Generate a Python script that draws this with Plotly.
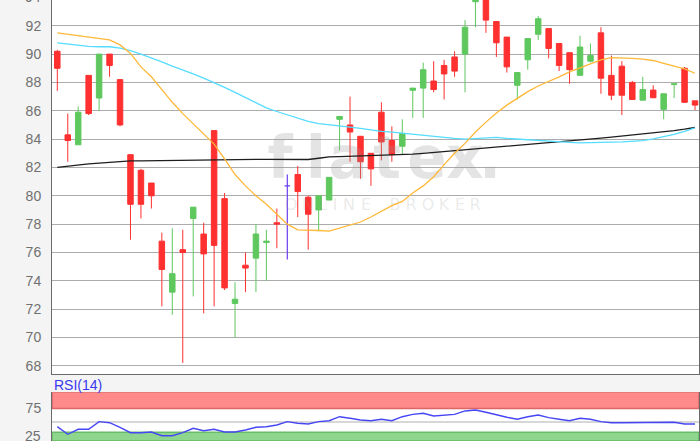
import plotly.graph_objects as go

# ---------------- data ----------------
idx = list(range(62))
open_ = [90.2, 84.3, 83.6, 88.5, 86.9, 90.0, 88.2, 82.9, 81.8, 80.9,
         76.8, 73.2, 76.2, 78.4, 77.3, 84.6, 79.8, 72.4, 75.1, 75.6,
         76.7, 78.1, 80.7, 81.5, 79.9, 79.0, 79.7, 85.4, 85.0, 84.2,
         83.0, 85.9, 83.9, 83.5, 87.45, 87.6, 88.1, 89.2, 89.8, 90.0,
         93.7, 94.3, 92.3, 91.2, 87.8, 89.6, 91.4, 91.8, 90.75, 90.1,
         88.5, 89.5, 91.5, 88.5, 89.15, 88.0, 86.75, 87.46, 86.1, 87.85,
         89.0, 86.7]
high = [90.3, 85.8, 86.3, 88.5, 90.0, 90.0, 88.2, 82.95, 81.9, 80.9,
        77.4, 77.7, 77.6, 79.2, 78.1, 84.6, 80.2, 73.9, 76.0, 78.0,
        77.6, 79.1, 81.5, 82.1, 80.0, 80.0, 81.3, 85.6, 87.0, 84.2,
        83.0, 86.6, 84.9, 85.4, 87.6, 89.4, 89.5, 89.6, 90.2, 92.4,
        94.6, 94.6, 92.3, 91.2, 88.7, 91.1, 92.7, 91.8, 90.75, 90.1,
        91.3, 90.75, 91.9, 89.9, 89.5, 88.1, 88.4, 87.8, 87.2, 87.9,
        89.1, 86.7]
low = [87.4, 82.4, 83.6, 85.7, 86.0, 88.4, 84.9, 76.9, 78.4, 79.1,
       72.2, 71.6, 68.2, 72.9, 71.7, 72.2, 73.35, 70.0, 73.2, 73.2,
       74.0, 76.3, 75.5, 78.5, 76.2, 77.5, 79.7, 83.2, 82.4, 81.2,
       80.7, 82.5, 82.4, 82.9, 85.5, 85.5, 87.3, 86.8, 88.4, 87.3,
       91.9, 91.5, 89.8, 88.7, 86.8, 88.9, 91.0, 89.7, 88.8, 87.9,
       88.5, 89.4, 87.2, 86.75, 85.7, 86.8, 86.75, 86.9, 85.4, 86.9,
       86.55, 86.05]
close = [89.0, 83.9, 85.9, 85.8, 90.0, 89.2, 85.0, 79.4, 79.4, 80.0,
         74.8, 74.5, 76.0, 79.2, 75.9, 76.5, 73.5, 72.7, 74.9, 77.3,
         76.8, 78.0, 80.7, 80.3, 78.7, 80.0, 81.3, 85.6, 84.5, 82.4,
         81.9, 83.8, 82.9, 84.4, 87.6, 88.9, 87.5, 88.6, 88.8, 91.9,
         94.4, 92.4, 90.8, 89.1, 88.7, 91.1, 92.5, 90.4, 89.2, 88.9,
         90.5, 89.9, 88.3, 87.1, 87.1, 86.8, 87.5, 86.92, 87.2, 87.9,
         86.6, 86.4]

ma_orange = [91.5, 91.4, 91.3, 91.2, 91.15, 91.0, 90.65, 90.05, 89.1, 88.4,
             87.5, 86.6, 85.8, 85.1, 84.4, 83.65, 82.6, 81.5, 80.7, 80.0,
             79.4, 78.7, 78.0, 77.6, 77.6, 77.55, 77.5, 77.7, 77.9, 78.15,
             78.5, 78.9, 79.3, 79.6, 80.2, 80.7, 81.35, 82.2, 83.0, 83.7,
             84.5, 85.2, 85.85, 86.4, 86.9, 87.35, 87.75, 88.05, 88.4, 88.75,
             89.05, 89.35, 89.6, 89.75, 89.75, 89.7, 89.65, 89.55, 89.35, 89.15,
             88.95, 88.65]
ma_cyan = [90.8, 90.72, 90.62, 90.55, 90.52, 90.52, 90.42, 90.25, 90.0, 89.75,
           89.45, 89.15, 88.9, 88.6, 88.3, 88.0, 87.65, 87.3, 86.95, 86.55,
           86.2, 85.95, 85.7, 85.45, 85.25, 85.1, 85.0, 84.9, 84.85, 84.76,
           84.65, 84.55, 84.5, 84.42, 84.35, 84.25, 84.18, 84.1, 84.05, 84.0,
           84.05, 84.1, 84.12, 84.05, 84.0, 83.95, 83.88, 83.85, 83.8, 83.77,
           83.74, 83.74, 83.76, 83.79, 83.81, 83.84, 83.9, 84.02, 84.15, 84.33,
           84.55, 84.8]
ma_black = [82.0, 82.1, 82.2, 82.25, 82.3, 82.36, 82.42, 82.47, 82.47, 82.48,
            82.48, 82.5, 82.5, 82.56, 82.57, 82.57, 82.57, 82.57, 82.57, 82.57,
            82.57, 82.57, 82.57, 82.56, 82.56, 82.65, 82.74, 82.77, 82.79, 82.81,
            82.83, 82.85, 82.87, 82.88, 82.94, 83.0, 83.06, 83.12, 83.18, 83.24,
            83.3, 83.37, 83.45, 83.52, 83.58, 83.63, 83.69, 83.75, 83.8, 83.87,
            83.93, 84.0, 84.07, 84.14, 84.21, 84.29, 84.37, 84.45, 84.52, 84.6,
            84.7, 84.82]
rsi = [41.3, 27.2, 36.5, 36.5, 50.6, 48.7, 40.2, 30.2, 30.2, 31.5,
       24.6, 24.6, 30.2, 38.3, 33.9, 36.5, 31.5, 31.5, 35.2, 40.2,
       41.3, 44.4, 50.6, 47.6, 46.3, 50.6, 52.4, 59.8, 56.9, 53.7,
       52.4, 55.0, 52.4, 59.8, 64.2, 66.1, 61.1, 62.4, 64.2, 70.5,
       72.2, 68.0, 63.0, 58.7, 55.0, 59.8, 63.0, 58.0, 55.0, 52.4,
       56.9, 55.0, 50.6, 48.7, 48.7, 48.7, 49.4, 48.7, 48.7, 49.4,
       46.3, 46.3]

price_ticks = [68, 70, 72, 74, 76, 78, 80, 82, 84, 86, 88, 90, 92]
rsi_mid = 50
rsi_overbought = 75
rsi_oversold = 31

# ---------------- styling / geometry ----------------
W, H = 700, 441
ML, MR = 52, 1
X_RANGE = [-0.507, 61.38]
Y_RANGE = [67.4, 93.82]
RSI_RANGE = [14.8, 105]
MAIN_DOM = [(H - 374.3) / H, 1.0]
RSI_DOM = [0.0, (H - 392.3) / H]
FONT = "Liberation Sans, Arial, sans-serif"
TICKC = "#707070"

def px2x(px):
    return X_RANGE[0] + (px - ML) / (W - ML - MR) * (X_RANGE[1] - X_RANGE[0])

def py2y(py):
    top, bot = 0.0, 374.3
    return Y_RANGE[1] - (py - top) / (bot - top) * (Y_RANGE[1] - Y_RANGE[0])

fig = go.Figure()

# watermark (under everything)
wm_letters = ["f", "l", "a", "t", "e", "x", "."]
wm_px = [280, 316, 348, 387, 427, 465, 490]
fig.add_trace(go.Scatter(
    x=[px2x(p) for p in wm_px], y=[py2y(163)] * len(wm_px),
    mode="text", text=wm_letters, hoverinfo="skip", cliponaxis=False,
    textfont=dict(family="DejaVu Sans", size=58, color="rgba(150,150,150,0.26)", weight="bold"),
))
sub_letters = list("ONLINE") + list("BROKER")
sub_px = [291, 308, 323, 335, 349, 366, 395, 411, 428, 444, 460, 475]
fig.add_trace(go.Scatter(
    x=[px2x(p) for p in sub_px], y=[py2y(206)] * len(sub_px),
    mode="text", text=sub_letters, hoverinfo="skip", cliponaxis=False,
    textfont=dict(family="DejaVu Sans", size=16, color="rgba(150,150,150,0.2)"),
))

# moving averages
fig.add_trace(go.Scatter(x=idx, y=ma_black, mode="lines", line=dict(color="#1e1e1e", width=1.3), hoverinfo="skip"))
fig.add_trace(go.Scatter(x=idx, y=ma_cyan, mode="lines", line=dict(color="#55dcff", width=1.3), hoverinfo="skip"))
fig.add_trace(go.Scatter(x=idx, y=ma_orange, mode="lines", line=dict(color="#ffb838", width=1.3), hoverinfo="skip"))

# candles
mv = [i for i in idx if open_[i] != close[i]]
fl = [i for i in idx if open_[i] == close[i]]
RED, GREEN, PURPLE = "#ff3030", "#5ec85e", "#6a3cf0"
fig.add_trace(go.Candlestick(
    x=mv, open=[open_[i] for i in mv], high=[high[i] for i in mv],
    low=[low[i] for i in mv], close=[close[i] for i in mv],
    increasing=dict(line=dict(color=GREEN, width=1), fillcolor=GREEN),
    decreasing=dict(line=dict(color=RED, width=1), fillcolor=RED),
    whiskerwidth=0,
))
fig.add_trace(go.Candlestick(
    x=fl, open=[open_[i] for i in fl], high=[high[i] for i in fl],
    low=[low[i] for i in fl], close=[close[i] for i in fl],
    increasing=dict(line=dict(color=PURPLE, width=1.2), fillcolor=PURPLE),
    decreasing=dict(line=dict(color=PURPLE, width=1.2), fillcolor=PURPLE),
    whiskerwidth=0,
))

# RSI
fig.add_trace(go.Scatter(x=idx, y=rsi, mode="lines", xaxis="x2", yaxis="y2",
                         line=dict(color="#4646f5", width=1.4), hoverinfo="skip"))

fig.update_layout(
    width=W, height=H, autosize=False,
    margin=dict(l=ML, r=MR, t=0, b=0, autoexpand=False),
    paper_bgcolor="#f4f4f4", plot_bgcolor="#ffffff",
    showlegend=False, boxgap=0.25,
    font=dict(family=FONT, size=14, color=TICKC),
    xaxis=dict(domain=[0, 1], range=X_RANGE, anchor="y", showgrid=False, zeroline=False,
               showticklabels=False, ticks="", showline=True, linecolor="#6a6a6a", linewidth=1,
               rangeslider=dict(visible=False), automargin=False),
    yaxis=dict(domain=MAIN_DOM, range=Y_RANGE, anchor="x", tickvals=price_ticks,
               showgrid=True, gridcolor="#acacac", gridwidth=1, zeroline=False,
               ticks="outside", ticklen=7, tickcolor="rgba(0,0,0,0)", automargin=False,
               showline=True, linecolor="#6a6a6a", linewidth=1, mirror=True,
               tickfont=dict(family=FONT, size=14, color=TICKC)),
    xaxis2=dict(domain=[0, 1], range=X_RANGE, anchor="y2", showgrid=False, zeroline=False,
                showticklabels=False, ticks="", showline=False, automargin=False,
                rangeslider=dict(visible=False)),
    yaxis2=dict(domain=RSI_DOM, range=RSI_RANGE, anchor="x2", tickvals=[rsi_overbought],
                showgrid=False, zeroline=False, automargin=False,
                ticks="outside", ticklen=7, tickcolor="rgba(0,0,0,0)",
                showline=True, linecolor="#6a6a6a", linewidth=1, mirror=True,
                tickfont=dict(family=FONT, size=14, color=TICKC)),
    shapes=[
        dict(type="rect", xref="x2", yref="y2", x0=X_RANGE[0], x1=X_RANGE[1], y0=rsi_overbought, y1=RSI_RANGE[1],
             fillcolor="#ff8a8a", line=dict(color="#dd6565", width=1.5), layer="below"),
        dict(type="rect", xref="x2", yref="y2", x0=X_RANGE[0], x1=X_RANGE[1], y0=RSI_RANGE[0], y1=rsi_oversold,
             fillcolor="#8ed68e", line=dict(color="#68bb68", width=1.5), layer="below"),
        dict(type="line", xref="x2", yref="y2", x0=X_RANGE[0], x1=X_RANGE[1], y0=rsi_mid, y1=rsi_mid,
             line=dict(color="#b0b0b0", width=1.2), layer="below"),
    ],
    annotations=[
        dict(text="RSI(14)", xref="paper", yref="paper", x=0, y=(H - 385) / H,
             xanchor="left", yanchor="middle", showarrow=False,
             font=dict(family=FONT, size=14, color="#3838f0")),
        dict(text="94", xref="paper", yref="paper", x=0, xshift=-9, y=(H + 2.6) / H,
             xanchor="right", yanchor="middle", showarrow=False,
             font=dict(family=FONT, size=14, color=TICKC)),
        dict(text="25", xref="paper", yref="paper", x=0, xshift=-9, y=(H - 436.0) / H,
             xanchor="right", yanchor="middle", showarrow=False,
             font=dict(family=FONT, size=14, color=TICKC)),
    ],
)

fig.write_html("out.html", config={"displayModeBar": False},
               post_script="document.body.style.margin='0';document.body.style.overflow='hidden';")
